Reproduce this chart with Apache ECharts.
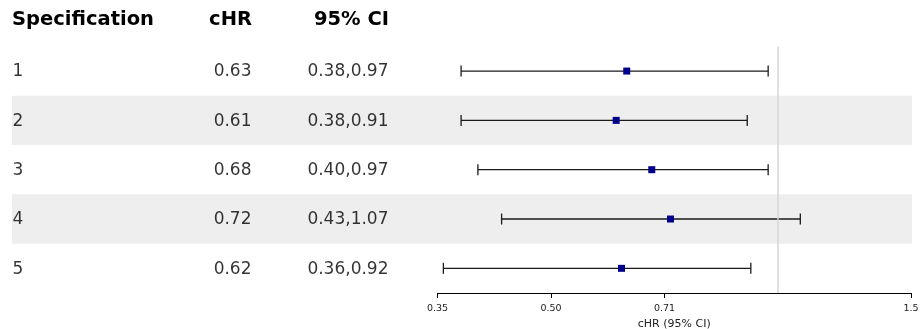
<!DOCTYPE html>
<html><head><meta charset="utf-8">
<script src="https://cdn.jsdelivr.net/npm/echarts@6/dist/echarts.min.js"></script>
<style>html,body{margin:0;padding:0;background:#fff}#c{width:921px;height:329px}</style>
</head><body><div id="c"></div>
<script>
const specs = ['1', '2', '3', '4', '5'];
const chr = [0.63, 0.61, 0.68, 0.72, 0.62];
const ciLow = [0.38, 0.38, 0.40, 0.43, 0.36];
const ciHigh = [0.97, 0.91, 0.97, 1.07, 0.92];
const headers = ['Specification', 'cHR', '95% CI'];
const tickValues = [0.3536, 0.5, 0.7071, 1.5];
const tickLabels = ['0.35', '0.50', '0.71', '1.5'];
const refValue = 1;
const axisTitle = 'cHR (95% CI)';

const L = Math.log;
const FONT = 'DejaVu Sans';
const ciText = ciLow.map((v, i) => v.toFixed(2) + ',' + ciHigh[i].toFixed(2));

const gridTop = 46.4, gridH = 246.6;
const colSpec = 12, colCHR = 252, colCI = 389;

function textSeries(x, texts, pos) {
  return {
    type: 'scatter', xAxisIndex: 1, yAxisIndex: 1, symbolSize: 1,
    itemStyle: { color: 'rgba(0,0,0,0)' }, silent: true, z: 3,
    data: texts.map((t, i) => [x, i]),
    label: {
      show: true, position: pos, distance: 0, offset: [0, 1],
      formatter: p => texts[p.dataIndex],
      fontFamily: FONT, fontSize: 17, color: '#000', textBorderWidth: 0
    }
  };
}

const chart = echarts.init(document.getElementById('c'), null, { renderer: 'canvas' });
chart.setOption({
  animation: false,
  backgroundColor: '#fff',
  grid: [
    { left: 437.5, width: 473.5, top: gridTop, height: gridH, outerBoundsMode: 'none', containLabel: false },
    { left: 0, width: 921, top: gridTop, height: gridH, outerBoundsMode: 'none', containLabel: false }
  ],
  xAxis: [
    {
      type: 'value', gridIndex: 0, min: L(tickValues[0]), max: L(tickValues[tickValues.length - 1]),
      splitLine: { show: false },
      axisLine: { show: true, onZero: false, lineStyle: { color: '#000', width: 1 } },
      axisTick: { show: true, length: 5, inside: false, customValues: tickValues.map(L), lineStyle: { color: '#000' } },
      axisLabel: {
        customValues: tickValues.map(L), margin: 11, fontFamily: FONT, fontSize: 9.5, color: '#222',
        formatter: v => {
          let best = 0, d = Infinity;
          tickValues.forEach((t, i) => { const dd = Math.abs(L(t) - v); if (dd < d) { d = dd; best = i; } });
          return tickLabels[best];
        }
      },
      name: axisTitle, nameLocation: 'middle', nameGap: 21,
      nameTextStyle: { fontFamily: FONT, fontSize: 11, color: '#222' }
    },
    { type: 'value', gridIndex: 1, min: 0, max: 921, show: false }
  ],
  yAxis: [
    { type: 'category', gridIndex: 0, data: specs, inverse: true, show: false },
    { type: 'category', gridIndex: 1, data: specs, inverse: true, show: false }
  ],
  graphic: headers.map((h, i) => ({
    type: 'text', x: [colSpec, colCHR, colCI][i], y: 20,
    style: {
      text: h, fontFamily: FONT, fontWeight: 'bold', fontSize: 19.5, fill: '#000',
      align: i === 0 ? 'left' : 'right', verticalAlign: 'middle'
    }
  })),
  series: [
    {
      type: 'custom', xAxisIndex: 1, yAxisIndex: 1, silent: true, z: 0,
      data: specs.map((s, i) => [i]).filter(d => d[0] % 2 === 1),
      renderItem: (params, api) => {
        const c1 = api.coord([12, api.value(0)]);
        const c2 = api.coord([912, api.value(0)]);
        const h = api.size([0, 1])[1];
        return { type: 'rect', shape: { x: c1[0], y: c1[1] - h / 2, width: c2[0] - c1[0], height: h },
                 style: { fill: '#eeeeee' } };
      }
    },
    {
      type: 'line', xAxisIndex: 0, yAxisIndex: 0, data: [], z: 1, silent: true,
      markLine: {
        symbol: 'none', silent: true, label: { show: false },
        lineStyle: { color: '#d6d6d6', width: 1.5, type: 'solid' },
        data: [{ xAxis: L(refValue) }]
      }
    },
    {
      type: 'custom', xAxisIndex: 0, yAxisIndex: 0, z: 4, silent: true,
      data: specs.map((s, i) => [L(ciLow[i]), i, L(ciHigh[i])]),
      encode: { x: [0, 2], y: 1 },
      renderItem: (params, api) => {
        const lo = api.coord([api.value(0), api.value(1)]);
        const hi = api.coord([api.value(2), api.value(1)]);
        const cap = 5.5;
        const st = { stroke: '#1a1a1a', lineWidth: 1.3 };
        return { type: 'group', children: [
          { type: 'line', shape: { x1: lo[0], y1: lo[1], x2: hi[0], y2: hi[1] }, style: st },
          { type: 'line', shape: { x1: lo[0], y1: lo[1] - cap, x2: lo[0], y2: lo[1] + cap }, style: st },
          { type: 'line', shape: { x1: hi[0], y1: hi[1] - cap, x2: hi[0], y2: hi[1] + cap }, style: st }
        ] };
      }
    },
    {
      type: 'scatter', xAxisIndex: 0, yAxisIndex: 0, z: 5, silent: true,
      symbol: 'rect', symbolSize: 7,
      itemStyle: { color: '#00008b', opacity: 1 },
      data: specs.map((s, i) => [L(chr[i]), i])
    },
    textSeries(colSpec, specs, 'right'),
    textSeries(colCHR, chr.map(v => v.toFixed(2)), 'left'),
    textSeries(colCI, ciText, 'left')
  ]
});
</script>
</body></html>
